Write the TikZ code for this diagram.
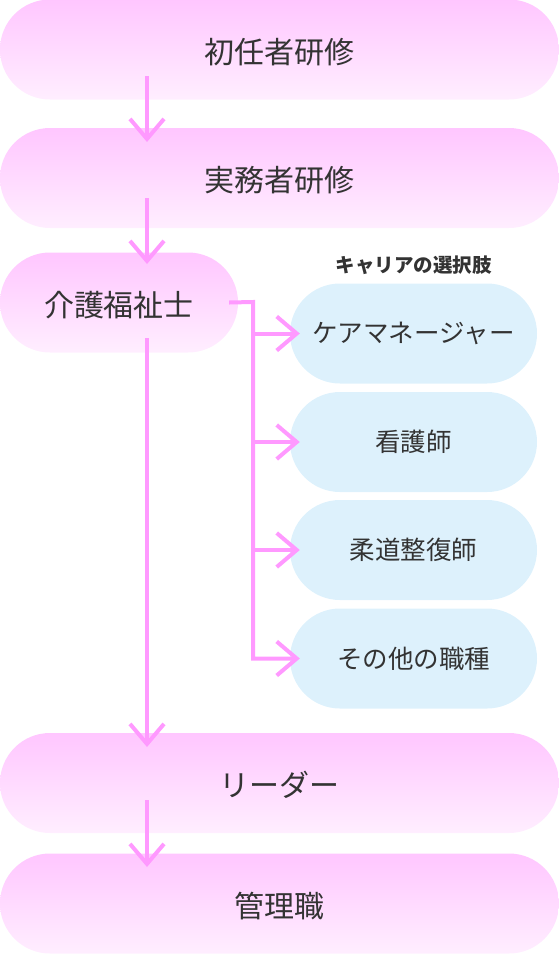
\documentclass[tikz,border=0pt]{standalone}
\usepackage{fontspec}
\setmainfont{Noto Sans CJK JP}
\usepackage{tikz}
\usetikzlibrary{arrows.meta}
\definecolor{pinktop}{HTML}{FFC6FF}
\definecolor{pinkbot}{HTML}{FFEEFF}
\definecolor{bluebox}{HTML}{DDF1FC}
\definecolor{arrowpink}{HTML}{FF99FF}
\definecolor{txt}{HTML}{333333}

\begin{document}
\begin{tikzpicture}[x=1pt,y=-1pt, pnode/.style={top color=pinktop, bottom color=pinkbot, draw=none, rounded corners=49.9pt, minimum height=100pt, inner sep=0pt, text height=29pt, text depth=2pt, text=txt, font=\fontsize{30pt}{32pt}\selectfont}, bnode/.style={fill=bluebox, draw=none, rounded corners=49.9pt, minimum width=247pt, minimum height=100pt, inner sep=0pt, text=txt, font=\fontsize{25.5pt}{27pt}\selectfont}, flow/.style={draw=arrowpink, line width=4pt, -{Straight Barb[length=20pt,width=34pt]}}]
    \useasboundingbox (0,0) rectangle (559,954);
    \node[pnode, minimum width=559pt] (shonin) at (279.5, 49.5) {初任者研修};
    \node[pnode, minimum width=559pt] (jitsumu) at (279.5, 178) {実務者研修};
    \node[pnode, minimum width=238pt] (kaigo) at (119, 302.5) {介護福祉士};
    \node[text=txt, font=\fontsize{19.5pt}{21pt}\selectfont\bfseries] (career) at (413.5, 265) {キャリアの選択肢};
    \node[bnode] (care) at (413.5, 333.5) {ケアマネージャー};
    \node[bnode] (kango) at (413.5, 442) {看護師};
    \node[bnode] (judo) at (413.5, 550) {柔道整復師};
    \node[bnode] (other) at (413.5, 658.5) {その他の職種};
    \node[pnode, minimum width=559pt] (leader) at (279.5, 783) {リーダー};
    \node[pnode, minimum width=559pt] (kanri) at (279.5, 903.5) {管理職};

    \coordinate (s1) at (147, 76);
    \coordinate (e1) at (147, 142);
    \coordinate (s2) at (147, 198);
    \coordinate (e2) at (147, 264);
    \coordinate (s3) at (147, 338);
    \coordinate (e3) at (147, 747);
    \coordinate (s4) at (147, 800);
    \coordinate (e4) at (147, 867);
    \coordinate (fork) at (253, 302);

    \draw[flow] (s1) -- (e1);
    \draw[flow] (s2) -- (e2);
    \draw[flow] (s3) -- (e3);
    \draw[flow] (s4) -- (e4);

    \draw[flow] ([xshift=-9pt]kaigo.east) -- (fork) |- ([xshift=10pt]other.west);
    \draw[flow] (fork |- care.west) -- ([xshift=10pt]care.west);
    \draw[flow] (fork |- kango.west) -- ([xshift=10pt]kango.west);
    \draw[flow] (fork |- judo.west) -- ([xshift=10pt]judo.west);
\end{tikzpicture}
\end{document}
